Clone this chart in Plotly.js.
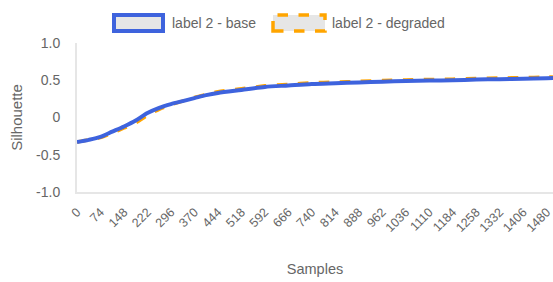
<!DOCTYPE html>
<html><head><meta charset="utf-8">
<script src="https://cdn.plot.ly/plotly-3.0.1.min.js"></script>
<style>html,body{margin:0;padding:0;background:#fff}#chart{width:553px;height:282px}</style>
</head><body><div id="chart"></div>
<script>
const samples = [0,37,74,111,148,185,222,259,296,333,370,407,444,518,592,666,740,814,888,962,1036,1110,1184,1258,1332,1406,1480,1500];
const baseVals = [-0.33,-0.30,-0.26,-0.19,-0.12,-0.04,0.06,0.13,0.18,0.22,0.26,0.30,0.33,0.37,0.41,0.43,0.45,0.46,0.47,0.48,0.49,0.495,0.50,0.51,0.515,0.52,0.528,0.53];
const degradedVals = [-0.33,-0.30,-0.27,-0.21,-0.14,-0.07,0.03,0.11,0.17,0.22,0.27,0.31,0.345,0.385,0.425,0.445,0.465,0.475,0.485,0.495,0.505,0.51,0.515,0.525,0.53,0.535,0.543,0.545];
const xTicks = [0,74,148,222,296,370,444,518,592,666,740,814,888,962,1036,1110,1184,1258,1332,1406,1480];
const yTicks = [-1,-0.5,0,0.5,1];
const yTickText = ["-1.0","-0.5","0","0.5","1.0"];
const seriesNames = ["label 2 - base","label 2 - degraded"];

const BLUE = "#3e63dd", ORANGE = "#ffa500", GREY = "#666";
const FAM = "Liberation Sans, Arial, sans-serif";

const traces = [
  {x:samples, y:degradedVals, name:seriesNames[1], mode:"lines", line:{color:ORANGE,width:3.5,dash:"dash",shape:"spline",smoothing:0.8}, showlegend:false},
  {x:samples, y:baseVals, name:seriesNames[0], mode:"lines", line:{color:BLUE,width:4,shape:"spline",smoothing:0.8}, showlegend:false}
];

const L=77, R=553, T=43, B=192;
const px = v => (v-L)/(R-L);
const py = v => (B-v)/(B-T);

const layout = {
  width:553, height:282,
  margin:{l:77, r:0, t:43, b:90},
  paper_bgcolor:"#fff", plot_bgcolor:"#fff",
  font:{family:FAM, color:GREY},
  showlegend:false,
  xaxis:{range:[0,1500], tickvals:xTicks, ticktext:xTicks.map(String), tickangle:-45,
    showgrid:false, zeroline:false, showline:true, linecolor:"#e6e6e6", linewidth:2,
    ticks:"outside", ticklen:6, tickcolor:"rgba(0,0,0,0)", ticklabeloverflow:"allow",
    tickfont:{size:12.5,color:GREY,family:FAM},
    title:{text:"Samples", font:{size:14.5,color:GREY,family:FAM}, standoff:30}},
  yaxis:{range:[-1,1], tickvals:yTicks, ticktext:yTickText,
    showgrid:false, zeroline:false, showline:true, linecolor:"#e6e6e6", linewidth:2,
    ticks:"outside", ticklen:12, tickcolor:"rgba(0,0,0,0)",
    tickfont:{size:14,color:GREY,family:FAM},
    title:{text:"Silhouette", font:{size:15,color:GREY,family:FAM}, standoff:10}},
  shapes:[
    {type:"rect", xref:"paper", yref:"paper", x0:px(114), x1:px(163), y0:py(31), y1:py(15),
      fillcolor:"#e6e6e6", line:{color:BLUE,width:4}},
    {type:"rect", xref:"paper", yref:"paper", x0:px(273), x1:px(325), y0:py(31), y1:py(15),
      fillcolor:"#e6e6e6", line:{color:ORANGE,width:3.5,dash:"dash"}}
  ],
  annotations:[
    {xref:"paper", yref:"paper", x:px(170), y:py(23), xanchor:"left", yanchor:"middle",
      text:seriesNames[0], showarrow:false, font:{size:14,color:GREY,family:FAM}},
    {xref:"paper", yref:"paper", x:px(330), y:py(23), xanchor:"left", yanchor:"middle",
      text:seriesNames[1], showarrow:false, font:{size:14,color:GREY,family:FAM}}
  ]
};
Plotly.newPlot("chart", traces, layout, {displayModeBar:false, staticPlot:true});
</script></body></html>
